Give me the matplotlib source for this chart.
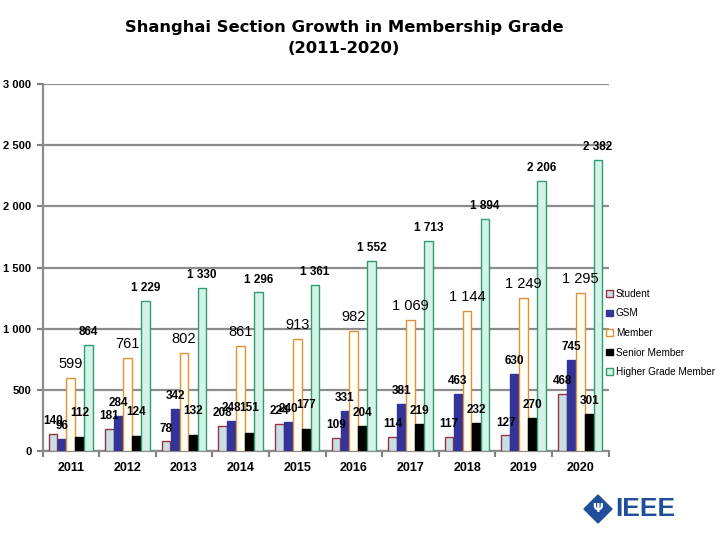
import matplotlib.pyplot as plt
import numpy as np
from matplotlib.patches import Polygon

plt.rcParams['font.family'] = ['Liberation Sans', 'DejaVu Sans']

years = ['2011', '2012', '2013', '2014', '2015', '2016', '2017', '2018', '2019', '2020']
student = [140, 181, 78, 208, 224, 109, 114, 117, 127, 468]
gsm = [96, 284, 342, 248, 240, 331, 381, 463, 630, 745]
member = [599, 761, 802, 861, 913, 982, 1069, 1144, 1249, 1295]
senior = [112, 124, 132, 151, 177, 204, 219, 232, 270, 301]
higher = [864, 1229, 1330, 1296, 1361, 1552, 1713, 1894, 2206, 2382]

series = [
    ('Student', student, '#C8E0E3', '#993344', True),
    ('GSM', gsm, '#333399', '#333399', True),
    ('Member', member, '#FFFFF4', '#E0903A', False),
    ('Senior Member', senior, '#000000', '#000000', True),
    ('Higher Grade Member', higher, '#D4F2E8', '#2E9E6A', True),
]


def fmt(v):
    return f'{v:,}'.replace(',', ' ')


fig = plt.figure(figsize=(7.2, 5.4), dpi=100)
ax = fig.add_axes([42.5 / 720, 1 - 451 / 540, 566 / 720, 367 / 540])

x = np.arange(len(years))
w = 0.158
for k, (name, vals, fc, ec, bold) in enumerate(series):
    pos = x + (k - 2) * w
    bars = ax.bar(pos, vals, width=w * 0.97, color=fc, edgecolor=ec,
                  linewidth=1.0, label=name, zorder=3)
    for i, (b, v) in enumerate(zip(bars, vals)):
        # senior labels sit higher in the first years, like the original chart
        dy = 13 if (name == 'Senior Member' and i < 5) else 5
        ax.annotate(fmt(v), (b.get_x() + b.get_width() / 2, v),
                    xytext=(0, dy), textcoords='offset points',
                    ha='center', va='bottom',
                    fontsize=8.5 if bold else 10.5,
                    fontweight='bold' if bold else 'normal', zorder=4)

ax.set_xlim(-0.5, len(years) - 0.5)
ax.set_ylim(0, 3000)
ax.set_yticks(range(0, 3001, 500))
ax.set_yticklabels([fmt(v) for v in range(0, 3001, 500)], fontsize=8, fontweight='bold')
ax.set_xticks(x)
ax.set_xticklabels(years, fontsize=9, fontweight='bold')
ax.set_xticks(np.arange(-0.5, len(years)), minor=True)
ax.tick_params(axis='x', which='major', length=0, pad=8)
ax.tick_params(axis='x', which='minor', length=4, color='#808080', width=1.5)
ax.tick_params(axis='y', length=4, color='#808080', width=1.5, pad=4)
ax.grid(axis='y', color='#8c8c8c', linewidth=1.6, zorder=0)
for s in ['top', 'right']:
    ax.spines[s].set_visible(False)
ax.spines['left'].set_color('#8c8c8c')
ax.spines['left'].set_linewidth(1.6)
ax.spines['bottom'].set_color('#8c8c8c')
ax.spines['bottom'].set_linewidth(1.6)

ax.legend(loc='upper left', bbox_to_anchor=(606 / 720, 1 - 289 / 540),
          bbox_transform=fig.transFigure, frameon=False, fontsize=7.2,
          handlelength=0.65, handleheight=0.65, handletextpad=0.35,
          labelspacing=0.95, borderaxespad=0, borderpad=0)

fig.text(344 / 720, 1 - 38 / 540, 'Shanghai Section Growth in Membership Grade\n(2011-2020)',
         ha='center', va='center', fontsize=11.8, fontweight='bold',
         family=['DejaVu Sans'], linespacing=1.45)

# IEEE logo
cx, cy = 598 / 720, 1 - 509 / 540
dx, dy = 14 / 720, 14 / 540
fig.patches.append(Polygon([[cx - dx, cy], [cx, cy + dy], [cx + dx, cy], [cx, cy - dy]],
                           closed=True, transform=fig.transFigure,
                           facecolor='#1F4E9A', edgecolor='#1F4E9A'))
fig.text(cx, cy, '\u03a8', ha='center', va='center', color='white', fontsize=9,
         family=['DejaVu Sans'], fontweight='bold')
fig.text(615 / 720, cy, 'IEEE', ha='left', va='center', color='#1F4E9A',
         fontsize=19, fontweight='bold')

fig.savefig('out.png', dpi=100)
